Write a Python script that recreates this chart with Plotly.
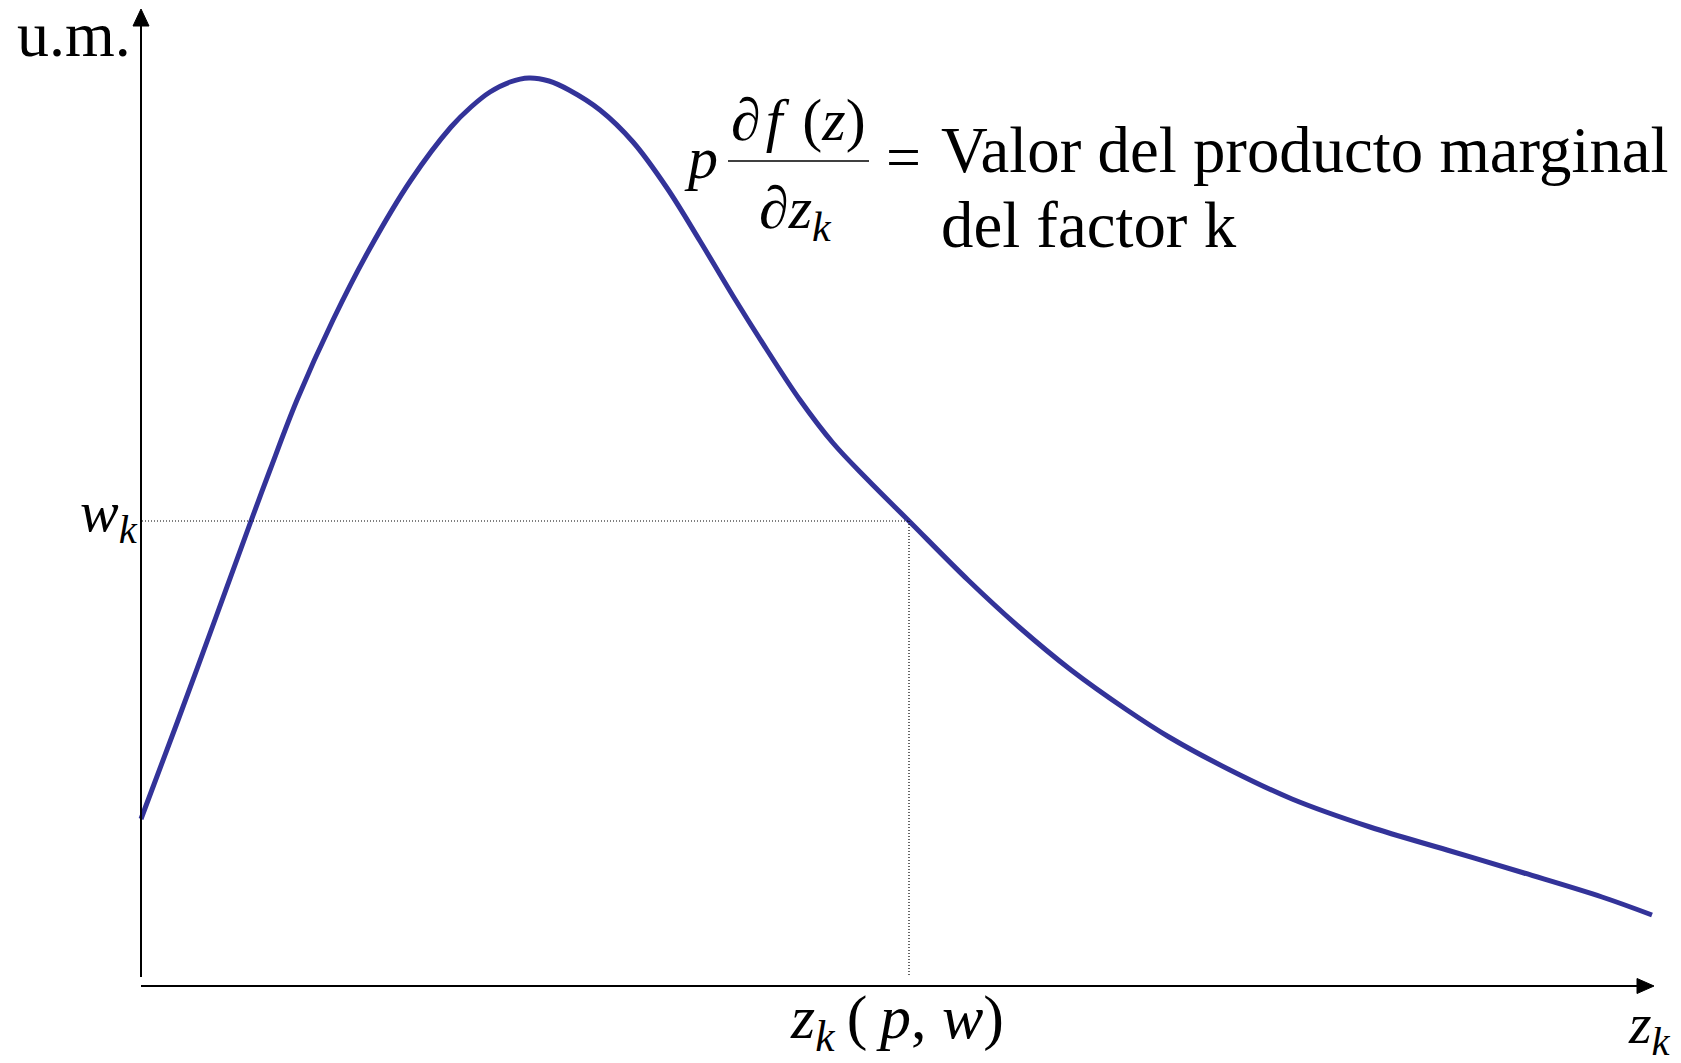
import plotly.graph_objects as go

# Curve data (arbitrary units: input quantity z_k vs value of marginal product)
z_vals = [0.00, 0.36, 0.75, 1.10, 1.29, 1.56, 1.92, 2.28, 2.70, 3.10, 3.30, 3.49,
          3.69, 3.88, 4.08, 4.28, 4.59, 4.92, 5.26, 5.59, 5.92, 6.26, 6.59, 6.92,
          7.26, 7.68, 8.27, 8.78, 9.30, 9.86, 10.28, 10.89, 11.51, 12.29, 13.06,
          13.83, 14.61, 15.11]
vmp_vals = [1.67, 2.63, 3.69, 4.65, 5.16, 5.86, 6.66, 7.36, 8.06, 8.59, 8.79, 8.94,
            9.04, 9.08, 9.05, 8.96, 8.76, 8.44, 7.98, 7.45, 6.90, 6.36, 5.86, 5.43,
            5.07, 4.65, 4.06, 3.59, 3.16, 2.76, 2.49, 2.16, 1.87, 1.59, 1.36,
            1.13, 0.89, 0.71]

# Equilibrium point (z_k(p,w), w_k)
z_star = 7.68
w_k = 4.65

X_END = 15.13   # x-axis arrow tip
Y_END = 9.77    # y-axis arrow tip

SERIF = "Liberation Serif, Times New Roman, serif"
CURVE_COLOR = "rgb(51,51,153)"

fig = go.Figure()
fig.add_trace(go.Scatter(
    x=z_vals, y=vmp_vals, mode="lines",
    line=dict(color=CURVE_COLOR, width=5, shape="spline", smoothing=1.0),
    hoverinfo="skip", showlegend=False,
))

shapes = [
    # y axis + arrowhead
    dict(type="line", x0=0, y0=0.09, x1=0, y1=Y_END - 0.15, line=dict(color="black", width=2)),
    dict(type="path", path=f"M -0.08 {Y_END-0.17} L 0 {Y_END} L 0.08 {Y_END-0.17} Z",
         fillcolor="black", line=dict(color="black", width=1)),
    # x axis + arrowhead
    dict(type="line", x0=0, y0=0, x1=X_END - 0.15, y1=0, line=dict(color="black", width=2)),
    dict(type="path", path=f"M {X_END-0.17} -0.075 L {X_END} 0 L {X_END-0.17} 0.075 Z",
         fillcolor="black", line=dict(color="black", width=1)),
    # dotted guides
    dict(type="line", x0=0.01, y0=w_k, x1=z_star, y1=w_k,
         line=dict(color="black", width=1.2, dash="1px,2px")),
    dict(type="line", x0=z_star, y0=w_k, x1=z_star, y1=0.09,
         line=dict(color="black", width=1.2, dash="1px,2px")),
    # fraction bar
    dict(type="line", x0=5.87, y0=8.25, x1=7.28, y1=8.25, line=dict(color="black", width=1.5)),
]

def ann(text, x, y, size, xanchor="left", yanchor="top"):
    return dict(text=text, x=x, y=y, xref="x", yref="y", showarrow=False,
                xanchor=xanchor, yanchor=yanchor, borderpad=0,
                font=dict(family=SERIF, size=size, color="black"))

annotations = [
    ann("u.m.", -1.25, 9.152, 64, yanchor="bottom"),
    ann("<i>p</i>", 5.42, 8.625, 60),
    ann("∂\u200a<i>f</i>\u2004(<i>z</i>)", 6.575, 9.005, 60, xanchor="center"),
    ann("∂<i>z</i><sub><i>k</i></sub>", 6.54, 8.125, 60, xanchor="center"),
    ann("=", 7.44, 8.642, 62),
    ann("Valor del producto marginal", 7.99, 8.728, 64.8),
    ann("del factor k", 7.99, 7.978, 64.8),
    ann("<i>w</i><sub><i>k</i></sub>", -0.02, 5.077, 58, xanchor="right"),
    ann("<i>z</i><sub><i>k</i></sub>\u2009(\u2009<i>p</i>, <i>w</i>)", 7.56, 0.042, 62, xanchor="center"),
    ann("<i>z</i><sub><i>k</i></sub>", 15.31, -0.043, 58, xanchor="right"),
]

# Page is offset by the 8px body margin; the axes span the whole figure.
fig.update_layout(
    width=1673, height=1055,
    margin=dict(l=0, r=0, t=0, b=0, pad=0),
    paper_bgcolor="white", plot_bgcolor="white",
    xaxis=dict(range=[-1.33, 15.40], visible=False, fixedrange=True),
    yaxis=dict(range=[-0.77, 9.78], visible=False, fixedrange=True),
    shapes=shapes, annotations=annotations,
    showlegend=False,
)

fig.write_html("out.html", config={"displayModeBar": False})
